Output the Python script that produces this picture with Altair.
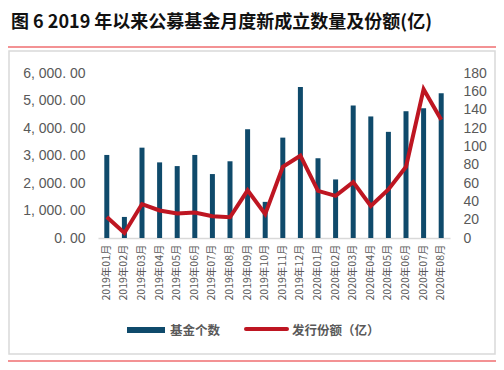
import altair as alt
import pandas as pd

months = ["2019年01月", "2019年02月", "2019年03月", "2019年04月", "2019年05月", "2019年06月",
          "2019年07月", "2019年08月", "2019年09月", "2019年10月", "2019年11月", "2019年12月",
          "2020年01月", "2020年02月", "2020年03月", "2020年04月", "2020年05月", "2020年06月",
          "2020年07月", "2020年08月"]
fund_count = [3020, 766, 3285, 2750, 2615, 3020, 2325, 2790, 3955, 1314,
              3650, 5490, 2900, 2130, 4820, 4420, 3860, 4610, 4720, 5260]
issue_amount = [23, 5.5, 37, 30, 26.7, 27.8, 23.7, 22.6, 52, 26,
                77.7, 89.8, 51.4, 46, 61, 35, 53, 77.7, 162.4, 129]
left_ticks = [0, 1000, 2000, 3000, 4000, 5000, 6000]
right_ticks = [0, 20, 40, 60, 80, 100, 120, 140, 160, 180]

title_text = "图 6 2019 年以来公募基金月度新成立数量及份额(亿)"
legend_bar = "基金个数"
legend_line = "发行份额（亿）"

df = pd.DataFrame({"month": months, "count": fund_count, "amount": issue_amount})

BLUE = "#0F4A6B"
RED = "#BE1622"
GRAY = "#595959"
CJK = "Noto Sans CJK SC"

x_enc = alt.X("month:N", sort=months, title=None,
              scale=alt.Scale(paddingInner=0, paddingOuter=0),
              axis=alt.Axis(labelAngle=270, labelFontSize=10.5, labelColor=GRAY, labelFont=CJK,
                            ticks=False, domainColor="#D9D9D9", domainWidth=1.5,
                            labelPadding=6, labelAlign="right", labelBaseline="middle"))

bars = alt.Chart(df).mark_bar(size=5, color=BLUE).encode(
    x=x_enc,
    y=alt.Y("count:Q", title=None, scale=alt.Scale(domain=[0, 6000], nice=False),
            axis=alt.Axis(values=left_ticks, format=",.2f", grid=False, domain=False, ticks=False,
                          labelFontSize=14, labelColor=GRAY, labelFont="Liberation Sans",
                          labelPadding=13,
                          labelExpr="replace(replace(datum.label, ',', ', '), '.', '. ')"))
)

line = alt.Chart(df).mark_line(color=RED, strokeWidth=4, strokeJoin="miter").encode(
    x=alt.X("month:N", sort=months),
    y=alt.Y("amount:Q", title=None, scale=alt.Scale(domain=[0, 180], nice=False),
            axis=alt.Axis(orient="right", values=right_ticks, grid=False, domain=False, ticks=False,
                          labelFontSize=14, labelColor=GRAY, labelFont="Liberation Sans",
                          labelPadding=13))
)

one = alt.Data(values=[{"k": 1}])

box = alt.Chart(one).mark_rect(fill=None, stroke="#D9D9D9", strokeWidth=1.5).encode(
    x=alt.value(-89), x2=alt.value(397), y=alt.value(-22), y2=alt.value(281))
top_rule = alt.Chart(one).mark_rule(color="#E8262B", strokeWidth=1.2).encode(
    x=alt.value(-90), x2=alt.value(398), y=alt.value(-26))
bot_rule = alt.Chart(one).mark_rule(color="#E8262B", strokeWidth=1.2).encode(
    x=alt.value(-90), x2=alt.value(398), y=alt.value(288))
title = alt.Chart(one).mark_text(text=title_text, font=CJK, fontWeight="bold", fontSize=18,
                                 color="#111111", align="left", baseline="middle").encode(
    x=alt.value(-87), y=alt.value(-50))
leg_rect = alt.Chart(one).mark_rect(color=BLUE).encode(
    x=alt.value(29), x2=alt.value(67), y=alt.value(254), y2=alt.value(260))
leg_rect_text = alt.Chart(one).mark_text(text=legend_bar, font=CJK, fontSize=12.5, color=GRAY,
                                         align="left", baseline="middle", fontWeight="bold").encode(
    x=alt.value(72), y=alt.value(258))
leg_line = alt.Chart(one).mark_rule(color=RED, strokeWidth=4, strokeCap="round").encode(
    x=alt.value(148), x2=alt.value(189), y=alt.value(256))
leg_line_text = alt.Chart(one).mark_text(text=legend_line, font=CJK, fontSize=12.5, color=GRAY,
                                         align="left", baseline="middle", fontWeight="bold").encode(
    x=alt.value(194), y=alt.value(258))

chart = alt.layer(
    box, top_rule, bot_rule, title,
    bars, line,
    leg_rect, leg_rect_text, leg_line, leg_line_text
).resolve_scale(y="independent").properties(
    width=352, height=165,
    autosize=alt.AutoSizeParams(type="none"),
    padding={"left": 90, "top": 65, "right": 46, "bottom": 124},
).configure_view(stroke=None)

chart.save("out.html", embed_options={"renderer": "svg", "actions": False})
